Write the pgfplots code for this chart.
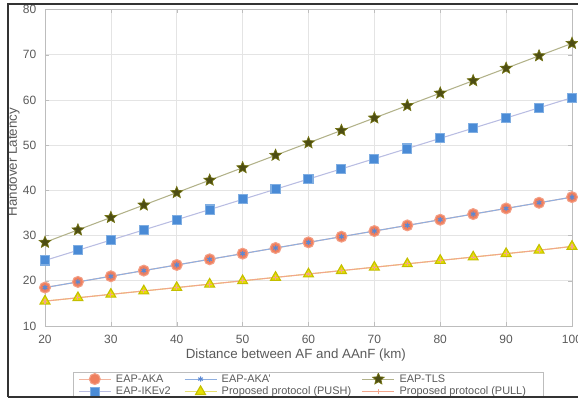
\documentclass[border=0pt]{standalone}
\usepackage{fontspec}
\setmainfont{Liberation Sans}
\usepackage{pgfplots}
\usepackage{pgfplotstable}
\pgfplotsset{compat=1.18}
\definecolor{akaline}{HTML}{F2B6A0}
\definecolor{akafill}{HTML}{EF7F5E}
\definecolor{akapline}{HTML}{8FAFE0}
\definecolor{akapmark}{HTML}{5A88D4}
\definecolor{ikeline}{HTML}{B9BDE2}
\definecolor{ikefill}{HTML}{4A8BD6}
\definecolor{tlsline}{HTML}{B2B28A}
\definecolor{tlsfill}{HTML}{4D4D14}
\definecolor{pushline}{HTML}{E8E070}
\definecolor{pushfill}{HTML}{E6E000}
\definecolor{pullline}{HTML}{F2A68C}
\definecolor{gridc}{HTML}{E4E4E4}
\definecolor{axc}{HTML}{BDBDBD}
\definecolor{tickc}{HTML}{5A5A5A}
\pgfdeclareplotmark{fstar}{%
  \pgfpathmoveto{\pgfpointpolar{90}{\pgfplotmarksize}}%
  \pgfpathlineto{\pgfpointpolar{126}{0.45\pgfplotmarksize}}%
  \pgfpathlineto{\pgfpointpolar{162}{\pgfplotmarksize}}%
  \pgfpathlineto{\pgfpointpolar{198}{0.45\pgfplotmarksize}}%
  \pgfpathlineto{\pgfpointpolar{234}{\pgfplotmarksize}}%
  \pgfpathlineto{\pgfpointpolar{270}{0.45\pgfplotmarksize}}%
  \pgfpathlineto{\pgfpointpolar{306}{\pgfplotmarksize}}%
  \pgfpathlineto{\pgfpointpolar{342}{0.45\pgfplotmarksize}}%
  \pgfpathlineto{\pgfpointpolar{18}{\pgfplotmarksize}}%
  \pgfpathlineto{\pgfpointpolar{54}{0.45\pgfplotmarksize}}%
  \pgfpathclose
  \pgfusepathqfillstroke}
\pgfplotstableread{
x aka ike tls push
20 18.5 24.5 28.5 15.5
25 19.75 26.75 31.25 16.25
30 21 29 34 17
35 22.25 31.25 36.75 17.75
40 23.5 33.5 39.5 18.5
45 24.75 35.75 42.25 19.25
50 26 38 45 20
55 27.25 40.25 47.75 20.75
60 28.5 42.5 50.5 21.5
65 29.75 44.75 53.25 22.25
70 31 47 56 23
75 32.25 49.25 58.75 23.75
80 33.5 51.5 61.5 24.5
85 34.75 53.75 64.25 25.25
90 36 56 67 26
95 37.25 58.25 69.75 26.75
100 38.5 60.5 72.5 27.6
}\datatab
\begin{document}
\begin{tikzpicture}
\path[use as bounding box] (-33.75pt,-55.5pt) rectangle (399.75pt,244.5pt);
\begin{axis}[
  at={(0,0)}, anchor=south west,
  scale only axis, width=395.25pt, height=237.4pt,
  xmin=20, xmax=100, ymin=10, ymax=80,
  xtick={20,30,...,100}, ytick={10,20,...,80},
  grid=major, grid style={gridc, line width=0.5pt},
  axis line style={axc, line width=0.6pt},
  tick style={axc}, tick align=inside, major tick length=3pt,
  ticklabel style={font=\fontsize{9}{10}\selectfont, text=tickc},
  /pgf/number format/assume math mode=true,
  xticklabel style={yshift=-3.5pt},
  yticklabel style={xshift=-3pt},
  xlabel={Distance between AF and AAnF (km)},
  ylabel={Handover Latency},
  label style={font=\fontsize{10}{11}\selectfont, text=tickc},
  xlabel style={at={(rel axis cs:0.476,0)}, anchor=center, yshift=-21.75pt},
  ylabel style={at={(rel axis cs:-0.06,0.518)}, anchor=center},
  legend columns=3,
  legend cell align=left,
  legend style={at={(rel axis cs:0.0626,-0.147)}, anchor=north west, draw=none, fill=none,
    font=\fontsize{8.2}{9}\selectfont, text=tickc, inner xsep=0pt, inner ysep=0pt,
    row sep=0pt,
    nodes={inner xsep=2pt, inner ysep=0pt, text height=7pt, text depth=2.4pt},
    /tikz/column 1/.style={column sep=1.5pt},
    /tikz/column 2/.style={column sep=8pt},
    /tikz/column 3/.style={column sep=1.5pt},
    /tikz/column 4/.style={column sep=6pt},
    /tikz/column 5/.style={column sep=1.5pt}},
  legend image code/.code={\draw[mark repeat=2,mark phase=2,#1] plot coordinates {(0pt,0pt)(12pt,0pt)(24pt,0pt)};},
  every axis plot/.append style={line width=0.8pt},
]
\addplot[color=akaline, mark=*, mark size=4.1pt, mark options={fill=akafill, draw=akafill!75!white}] table[x=x,y=aka]{\datatab};
\addlegendentry{EAP-AKA}
\addplot[color=akapline, mark=asterisk, mark size=2pt, mark options={draw=akapmark}] table[x=x,y=aka]{\datatab};
\addlegendentry{EAP-AKA'}
\addplot[color=tlsline, mark=fstar, mark size=4.6pt, mark options={fill=tlsfill, draw=tlsfill!80!yellow, line width=0.5pt}] table[x=x,y=tls]{\datatab};
\addlegendentry{EAP-TLS}
\addplot[color=ikeline, mark=square*, mark size=3.4pt, mark options={fill=ikefill, draw=ikefill!70!white}] table[x=x,y=ike]{\datatab};
\addlegendentry{EAP-IKEv2}
\addplot[color=pushline, mark=triangle*, mark size=4.3pt, mark options={fill=pushfill, draw=pushfill!85!black}] table[x=x,y=push]{\datatab};
\addlegendentry{Proposed protocol (PUSH)}
\addplot[forget plot, color=pullline, mark=+, mark size=1.8pt, mark options={draw=pullline}] table[x=x,y=push]{\datatab};
\addlegendimage{color=pullline, line width=0.8pt, mark=+, mark size=1.8pt, mark options={draw=pullline}}
\addlegendentry{Proposed protocol (PULL)}
\end{axis}
\draw[axc, line width=0.6pt] (373.5pt,-53.25pt) -- (373.5pt,-34.5pt) -- (21pt,-34.5pt) -- (21pt,-53.25pt);
\draw[black!80, line width=1.8pt] (-27.75pt,-53.25pt) -- (-27.75pt,241.5pt) -- (399.75pt,241.5pt);
\draw[black!80, line width=1.8pt] (-27.75pt,-53.25pt) -- (399.75pt,-53.25pt);
\end{tikzpicture}
\end{document}
